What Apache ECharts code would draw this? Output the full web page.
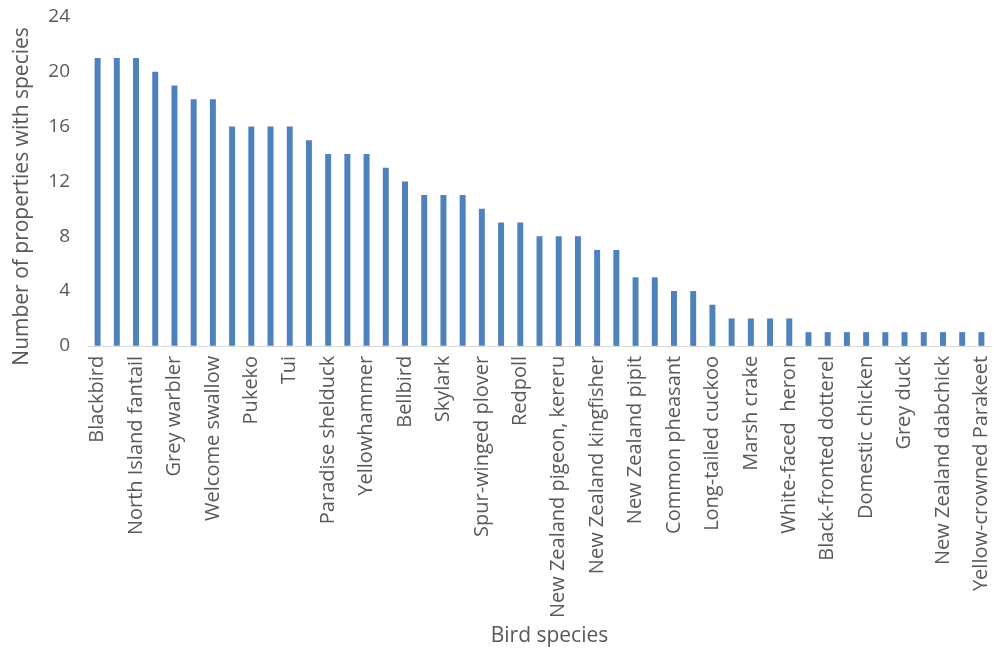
<!DOCTYPE html>
<html><head><meta charset="utf-8">
<script src="https://cdn.jsdelivr.net/npm/echarts@6/dist/echarts.min.js"></script>
<style>html,body{margin:0;padding:0;background:#fff}#c{width:994px;height:652px}</style>
</head><body><div id="c"></div>
<script>
const categories = ["Blackbird","Chaffinch","North Island fantail","Silvereye","Grey warbler","Australian magpie","Welcome swallow","Goldfinch","Pukeko","Starling","Tui","House sparrow","Paradise shelduck","Song thrush","Yellowhammer","Greenfinch","Bellbird","Myna","Skylark","Australasian harrier","Spur-winged plover","Morepork","Redpoll","Eastern rosella","New Zealand pigeon, kereru","Dunnock","New Zealand kingfisher","Mallard","New Zealand pipit","Shining cuckoo","Common pheasant","California quail","Long-tailed cuckoo","Black shag","Marsh crake","Pied stilt","White-faced  heron","Little shag","Black-fronted dotterel","Banded dotterel","Domestic chicken","Kaka","Grey duck","Spotted dove","New Zealand dabchick","Tomtit","Yellow-crowned Parakeet"];
const values = [21,21,21,20,19,18,18,16,16,16,16,15,14,14,14,13,12,11,11,11,10,9,9,8,8,8,7,7,5,5,4,4,3,2,2,2,2,1,1,1,1,1,1,1,1,1,1];
const yTicks = [0,4,8,12,16,20,24];
const font = "Open Sans";
const chart = echarts.init(document.getElementById('c'));
chart.setOption({
  animation:false,
  grid:{left:88,right:3,top:17,bottom:305,containLabel:false},
  xAxis:{type:'category',data:categories,
    name:'Bird species',nameLocation:'middle',nameGap:277,
    nameTextStyle:{fontFamily:font,fontSize:21,color:'#595959',padding:[0,0,0,20]},
    axisLine:{lineStyle:{color:'#d9d9d9',width:1}},axisTick:{show:false},
    axisLabel:{interval:1,rotate:90,fontFamily:font,fontSize:20,color:'#595959',margin:10}},
  yAxis:{type:'value',min:yTicks[0],max:yTicks[yTicks.length-1],interval:4,
    name:'Number of properties with species',nameLocation:'middle',nameGap:55,
    nameTextStyle:{fontFamily:font,fontSize:21,color:'#595959',padding:[0,30,0,0]},
    splitLine:{show:false},axisLine:{show:false},axisTick:{show:false},
    axisLabel:{fontFamily:font,fontSize:19,color:'#595959',margin:18}},
  series:[{type:'bar',data:values,barWidth:'31%',itemStyle:{color:'#4f81bd'}}]
});
</script></body></html>
